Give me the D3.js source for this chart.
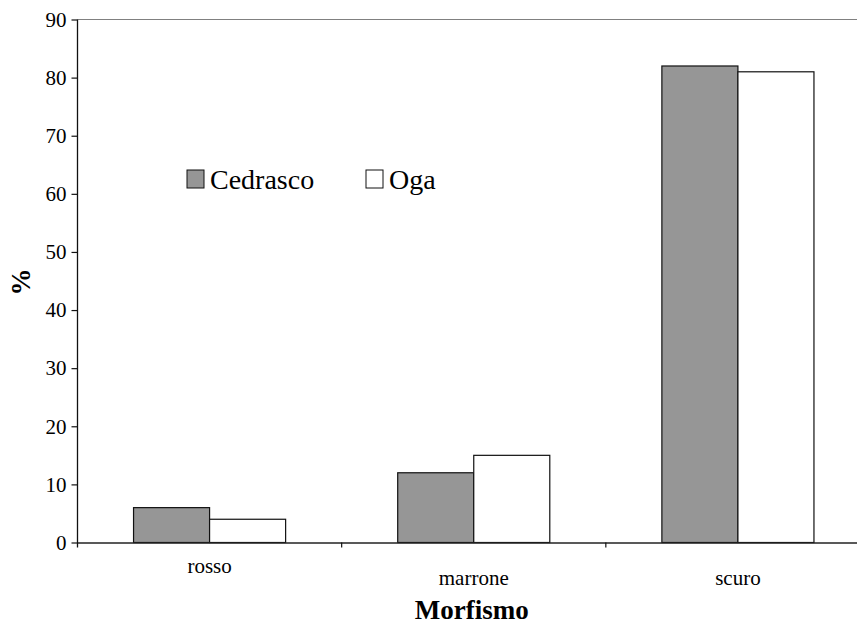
<!DOCTYPE html>
<html>
<head>
<meta charset="utf-8">
<script src="https://cdn.jsdelivr.net/npm/d3@7"></script>
<style>
  html, body { margin: 0; padding: 0; background: #fff; }
  svg { display: block; }
</style>
</head>
<body>
<svg id="chart" width="857" height="625"></svg>
<script>
// Morph frequencies (%) per population
const categories = ["rosso", "marrone", "scuro"];
const seriesNames = ["Cedrasco", "Oga"];
const cedrasco = [6, 12, 82];
const oga = [4, 15, 81];
const yTicks = [0, 10, 20, 30, 40, 50, 60, 70, 80, 90];
const seriesColors = ["#969696", "#ffffff"];

const serif = "Liberation Serif";
const values = [cedrasco, oga];
const rows = categories.map((c, i) => ({
  category: c,
  items: seriesNames.map((s, j) => ({ series: s, value: values[j][i] }))
}));

const svg = d3.select("#chart");
const plotLeft = 77.5, plotRight = 870, plotTop = 19.5, plotBottom = 542.5;

const x0 = d3.scaleBand().domain(categories).range([plotLeft, plotRight]).padding(0);
const x1 = d3.scaleBand().domain(seriesNames).range([0, x0.bandwidth()])
  .paddingInner(0).paddingOuter(0.737);
const y = d3.scaleLinear().domain([0, 90]).range([plotBottom, plotTop]);
const color = d3.scaleOrdinal().domain(seriesNames).range(seriesColors);

// top border of plot area
svg.append("line")
  .attr("x1", plotLeft).attr("x2", plotRight)
  .attr("y1", plotTop).attr("y2", plotTop)
  .attr("stroke", "#808080").attr("stroke-width", 1.2);

// bars
const groups = svg.append("g").selectAll("g").data(rows).join("g")
  .attr("transform", d => `translate(${x0(d.category)},0)`);
groups.selectAll("rect").data(d => d.items).join("rect")
  .attr("x", d => x1(d.series))
  .attr("width", x1.bandwidth())
  .attr("y", d => y(d.value))
  .attr("height", d => y(0) - y(d.value))
  .attr("fill", d => color(d.series))
  .attr("stroke", "#111")
  .attr("stroke-width", 1.2);

// y axis
const yAxis = svg.append("g")
  .attr("transform", `translate(${plotLeft},0)`)
  .call(d3.axisLeft(y).tickValues(yTicks).tickSize(6).tickPadding(5).tickSizeOuter(0));
yAxis.select(".domain").attr("stroke", "#111").attr("stroke-width", 1.3)
  .attr("d", `M0,${plotTop}V${plotBottom + 5}`);
yAxis.selectAll(".tick line").attr("stroke", "#111").attr("stroke-width", 1.2);
yAxis.selectAll(".tick text").attr("fill", "#000")
  .style("font-family", serif).style("font-size", "21px");

// x axis: ticks between categories
const xAxis = svg.append("g")
  .attr("transform", `translate(0,${plotBottom})`)
  .call(d3.axisBottom(x0).tickSize(0).tickPadding(32).tickSizeOuter(0));
xAxis.select(".domain").attr("stroke", "#222").attr("stroke-width", 1.3);
xAxis.selectAll(".tick text").attr("fill", "#000")
  .style("font-family", serif).style("font-size", "21px");
// first label sits one line higher than the others
xAxis.selectAll(".tick text").filter((d, i) => i === 0).attr("dy", "-0.05em");
xAxis.selectAll(".tick text").filter((d, i) => i > 0).attr("dy", "0.52em");

const boundaries = categories.slice(1).map(c => x0(c));
svg.append("g").selectAll("line").data(boundaries).join("line")
  .attr("x1", d => d).attr("x2", d => d)
  .attr("y1", plotBottom).attr("y2", plotBottom + 5)
  .attr("stroke", "#111").attr("stroke-width", 1.2);

// axis titles
svg.append("text")
  .attr("x", (plotLeft + plotRight) / 2 - 2).attr("y", 619)
  .attr("text-anchor", "middle")
  .style("font-family", serif).style("font-size", "27px").style("font-weight", "bold")
  .text("Morfismo");

svg.append("text")
  .attr("transform", "translate(30,282) rotate(-90)")
  .attr("text-anchor", "middle")
  .style("font-family", serif).style("font-size", "27px").style("font-weight", "bold")
  .text("%");

// legend
const legendX = [187, 366];
const legend = svg.append("g").selectAll("g").data(seriesNames).join("g")
  .attr("transform", (d, i) => `translate(${legendX[i]},170)`);
legend.append("rect")
  .attr("width", 17).attr("height", 18)
  .attr("fill", d => color(d))
  .attr("stroke", "#111").attr("stroke-width", 1);
legend.append("text")
  .attr("x", 23).attr("y", 19)
  .style("font-family", serif).style("font-size", "28px")
  .text(d => d);
</script>
</body>
</html>
